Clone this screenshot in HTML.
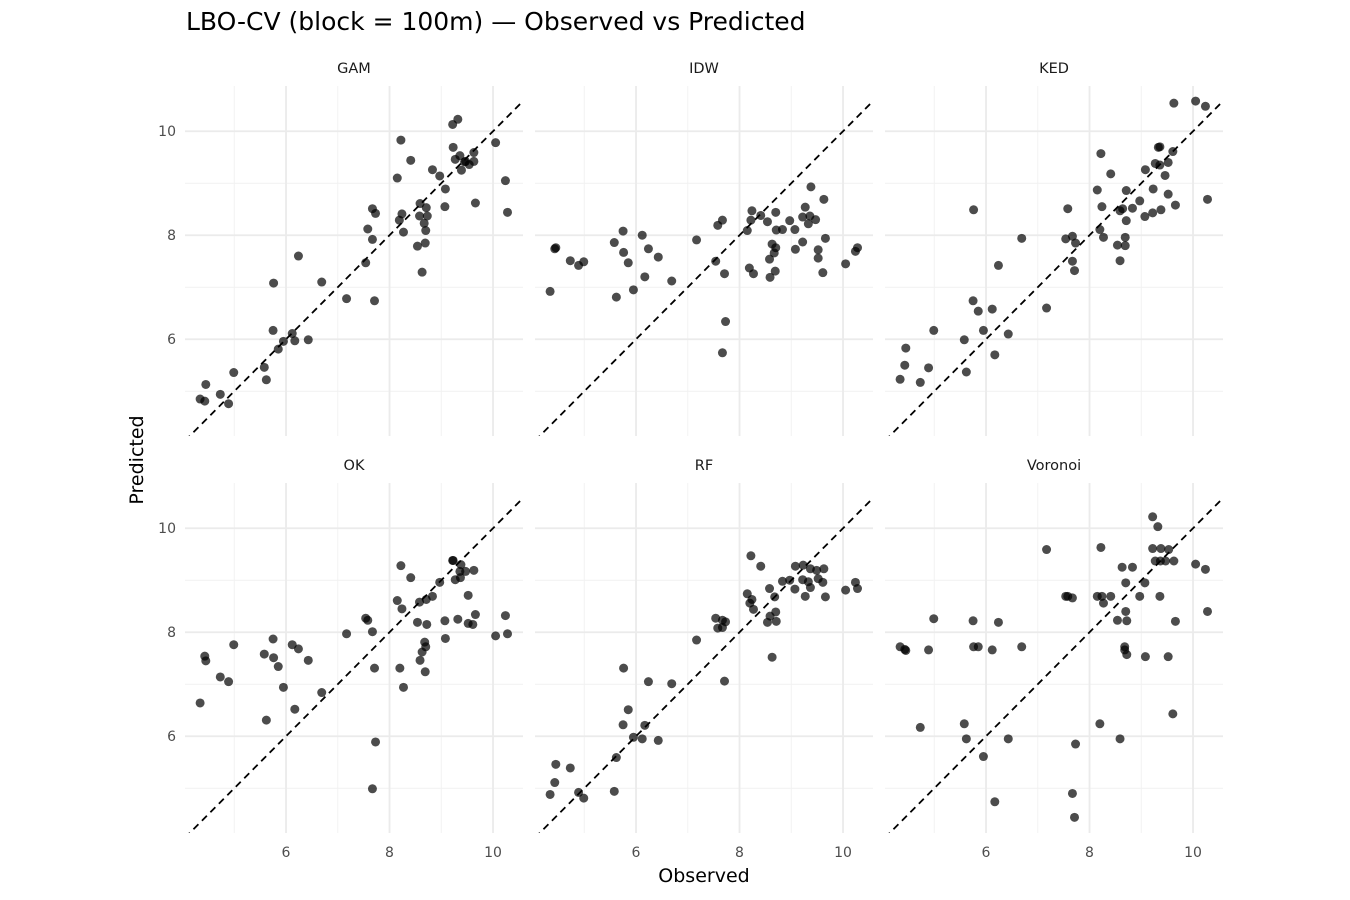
<!DOCTYPE html>
<html><head><meta charset="utf-8"><style>
body{margin:0;background:#fff}
svg{display:block;font-family:"DejaVu Sans","Liberation Sans",sans-serif}
</style></head><body>
<svg id="chart" width="1350" height="900" viewBox="0 0 1350 900">
<rect width="1350" height="900" fill="#fff"/>
<text x="186" y="30" font-size="25" fill="#000">LBO-CV (block = 100m) — Observed vs Predicted</text>
<text x="704" y="882" font-size="19" text-anchor="middle" fill="#000">Observed</text>
<text transform="translate(143,460) rotate(-90)" font-size="19" text-anchor="middle" fill="#000">Predicted</text>
<g id="panels"></g>
</svg>
<script>
const panelNames = ["GAM","IDW","KED","OK","RF","Voronoi"];
const xTicks = [6,8,10];
const yTicks = [6,8,10];
const minorTicks = [5,7,9];
const gamObs = [4.34,4.43,4.45,4.73,4.89,4.99,5.58,5.62,5.75,5.85,5.95,6.12,6.17,6.43,5.76,6.24,6.69,7.17,7.71,7.54,7.58,7.67,7.67,7.73,8.27,8.19,8.24,8.15,8.22,8.41,8.83,8.97,9.08,9.07,8.59,8.58,8.71,8.73,8.67,8.70,8.69,8.54,8.63,9.22,9.32,9.23,9.36,9.27,9.39,9.47,9.54,9.63,9.63,9.45,10.05,10.24,9.66,10.28];
const gamPred = [4.85,4.81,5.13,4.94,4.76,5.36,5.46,5.22,6.17,5.81,5.96,6.11,5.97,5.99,7.08,7.60,7.10,6.78,6.74,7.47,8.12,7.92,8.51,8.42,8.06,8.29,8.41,9.10,9.83,9.44,9.26,9.14,8.89,8.55,8.61,8.37,8.53,8.37,8.23,8.09,7.85,7.79,7.29,10.13,10.23,9.69,9.53,9.46,9.25,9.42,9.36,9.59,9.42,9.41,9.78,9.05,8.62,8.44];
const idwObs = [4.43,4.45,4.73,4.89,4.99,4.34,5.58,5.75,5.76,5.85,6.12,6.24,6.43,6.17,5.95,5.62,6.69,7.17,7.54,7.71,7.58,7.67,7.73,7.67,8.15,8.22,8.24,8.41,8.54,8.70,8.71,8.83,8.97,9.07,9.22,9.27,9.36,9.33,9.47,9.38,9.63,8.63,8.70,8.67,8.58,8.69,8.59,8.19,8.27,9.08,9.22,9.52,9.52,9.66,9.61,10.05,10.24,10.28];
const idwPred = [7.74,7.76,7.51,7.42,7.49,6.92,7.86,8.08,7.67,7.47,8.00,7.74,7.58,7.20,6.95,6.81,7.12,7.91,7.50,7.26,8.19,8.29,6.34,5.74,8.09,8.29,8.47,8.38,8.26,8.44,8.10,8.11,8.28,8.11,8.35,8.54,8.37,8.22,8.30,8.93,8.69,7.83,7.76,7.66,7.54,7.31,7.19,7.37,7.26,7.73,7.87,7.72,7.56,7.94,7.28,7.45,7.69,7.76];
const kedObs = [4.34,4.43,4.45,4.73,4.89,4.99,5.62,5.58,5.75,5.85,5.95,6.12,6.17,6.43,5.76,6.24,6.69,7.17,7.54,7.67,7.73,7.67,7.71,7.58,8.20,8.27,8.15,8.24,8.22,8.41,8.59,8.64,8.71,8.83,8.97,8.71,8.69,8.54,8.69,8.59,9.07,9.22,9.38,9.08,9.23,9.52,9.66,9.27,9.36,9.52,9.46,9.61,9.33,9.36,9.63,10.05,10.24,10.28];
const kedPred = [5.23,5.50,5.83,5.17,5.45,6.17,5.37,5.99,6.74,6.54,6.17,6.58,5.70,6.10,8.49,7.42,7.94,6.60,7.93,7.98,7.85,7.50,7.32,8.51,8.11,7.96,8.87,8.55,9.57,9.18,8.47,8.51,8.86,8.52,8.66,8.28,7.96,7.81,7.80,7.51,8.36,8.43,8.49,9.26,8.89,8.79,8.58,9.38,9.35,9.40,9.15,9.61,9.69,9.70,10.54,10.58,10.48,8.69];
const okObs = [4.34,4.43,4.45,4.73,4.89,4.99,5.58,5.75,5.76,5.85,5.95,5.62,6.12,6.24,6.43,6.17,6.69,7.17,7.54,7.58,7.67,7.71,7.73,7.67,8.22,8.41,8.15,8.24,8.20,8.27,8.54,8.58,8.71,8.83,8.72,8.68,8.70,8.63,8.59,8.69,8.97,9.07,9.08,9.22,9.23,9.38,9.36,9.47,9.63,9.27,9.37,9.52,9.32,9.52,9.61,9.66,10.05,10.24,10.28];
const okPred = [6.64,7.54,7.45,7.14,7.05,7.76,7.58,7.87,7.51,7.34,6.94,6.31,7.76,7.68,7.46,6.52,6.84,7.97,8.27,8.23,8.01,7.31,5.89,4.99,9.28,9.05,8.61,8.45,7.31,6.94,8.19,8.58,8.63,8.69,8.15,7.81,7.72,7.62,7.46,7.24,8.96,8.22,7.88,9.38,9.38,9.30,9.17,9.17,9.19,9.01,9.05,8.71,8.25,8.17,8.15,8.34,7.93,8.32,7.97];
const rfObs = [4.34,4.43,4.45,4.73,4.89,4.99,5.58,5.62,5.75,5.85,5.95,6.12,6.17,6.43,5.76,6.24,6.69,7.17,7.71,8.63,7.54,7.58,7.67,7.73,7.67,8.22,8.41,8.15,8.24,8.20,8.27,8.58,8.68,8.70,8.59,8.54,8.71,8.83,8.97,9.07,9.08,9.23,9.37,9.49,9.63,9.22,9.33,9.52,9.61,9.37,9.27,9.66,10.05,10.24,10.28];
const rfPred = [4.88,5.11,5.46,5.39,4.92,4.81,4.94,5.59,6.22,6.51,5.98,5.95,6.21,5.92,7.31,7.05,7.01,7.85,7.06,7.52,8.27,8.08,8.23,8.20,8.09,9.47,9.27,8.74,8.63,8.56,8.44,8.84,8.68,8.39,8.31,8.19,8.21,8.98,9.00,8.83,9.27,9.29,9.22,9.19,9.22,9.01,8.97,9.03,8.96,8.86,8.69,8.68,8.81,8.96,8.84];
const vorObs = [4.34,4.43,4.45,4.89,4.99,4.73,5.58,5.62,5.75,5.76,5.85,6.12,6.24,5.95,6.17,6.43,6.69,7.17,7.54,7.58,7.67,7.73,7.67,7.71,8.22,8.15,8.24,8.27,8.41,8.20,8.59,8.63,8.83,8.70,8.70,8.54,8.72,8.68,8.68,8.72,8.97,9.07,9.08,9.22,9.32,9.22,9.38,9.53,9.27,9.37,9.47,9.63,9.36,9.52,9.61,9.66,10.05,10.24,10.28];
const vorPred = [7.72,7.67,7.65,7.66,8.26,6.17,6.24,5.95,8.22,7.72,7.72,7.66,8.19,5.61,4.74,5.95,7.72,9.59,8.69,8.69,8.66,5.85,4.90,4.44,9.63,8.69,8.69,8.56,8.69,6.24,5.95,9.25,9.25,8.95,8.40,8.23,8.22,7.72,7.66,7.57,8.69,8.95,7.53,10.22,10.03,9.61,9.61,9.59,9.37,9.37,9.37,9.37,8.69,7.53,6.43,8.21,9.31,9.21,8.40];
const allObs = [gamObs,idwObs,kedObs,okObs,rfObs,vorObs];
const allPred = [gamPred,idwPred,kedPred,okPred,rfPred,vorPred];

const NS = "http://www.w3.org/2000/svg";
const X0 = 4.048, XMAX = 10.56, YMIN = 4.13, YMAX = 10.87, SX = 51.75, SY = 52;
const colLeft = [185,535,885], rowTop = [86,483];
const PW = 338, PH = 350;
function mk(tag, attrs, parent){const e=document.createElementNS(NS,tag);for(const k in attrs)e.setAttribute(k,attrs[k]);parent.appendChild(e);return e;}
const root = document.getElementById('panels');
const defs = mk('defs',{},root);

panelNames.forEach((name,i)=>{
  const c=i%3, r=Math.floor(i/3);
  const left=colLeft[c], top=rowTop[r];
  const xs = v => left + (v - X0)*SX;
  const ys = v => top + (YMAX - v)*SY;
  const g = mk('g',{},root);
  
  
  const cp = mk('clipPath',{id:'clip'+i},defs);
  mk('rect',{x:left,y:top,width:PW,height:PH},cp);
  minorTicks.forEach(t=>{
    const l1 = mk('line',{x1:xs(t),x2:xs(t),y1:top,y2:top+PH,stroke:'#f1f1f1','stroke-width':0.9},g);
    
    
    const l2 = mk('line',{x1:left,x2:left+PW,y1:ys(t),y2:ys(t),stroke:'#f1f1f1','stroke-width':0.9},g);
    
    
  });
  xTicks.forEach(t=>{
    const l = mk('line',{x1:xs(t),x2:xs(t),y1:top,y2:top+PH,stroke:'#ebebeb','stroke-width':1.8},g);
    
    
    if(r===1){
      const tx = mk('text',{x:xs(t),y:857,'font-size':14,'text-anchor':'middle',fill:'#4d4d4d'},g);
      tx.textContent = t;
      
      
    }
  });
  yTicks.forEach(t=>{
    const l = mk('line',{x1:left,x2:left+PW,y1:ys(t),y2:ys(t),stroke:'#ebebeb','stroke-width':1.8},g);
    
    
    if(c===0){
      const tx = mk('text',{x:176,y:ys(t)+5,'font-size':14,'text-anchor':'end',fill:'#4d4d4d'},g);
      tx.textContent = t;
      
      
    }
  });
  const st = mk('text',{x:left+PW/2,y:top-13,'font-size':14.5,'text-anchor':'middle',fill:'#1a1a1a'},g);
  st.textContent = name;
  
  
  const dl = mk('line',{x1:xs(X0),y1:ys(X0),x2:xs(XMAX),y2:ys(XMAX),stroke:'#000','stroke-width':1.8,'stroke-dasharray':'7,5','clip-path':'url(#clip'+i+')'},g);
  
  
  const obs = allObs[i], pred = allPred[i];
  obs.forEach((o,k)=>{
    const p = mk('circle',{cx:xs(o),cy:ys(pred[k]),r:4.5,fill:'#000','fill-opacity':0.7},g);
    
    
  });
});
</script>
</body></html>
